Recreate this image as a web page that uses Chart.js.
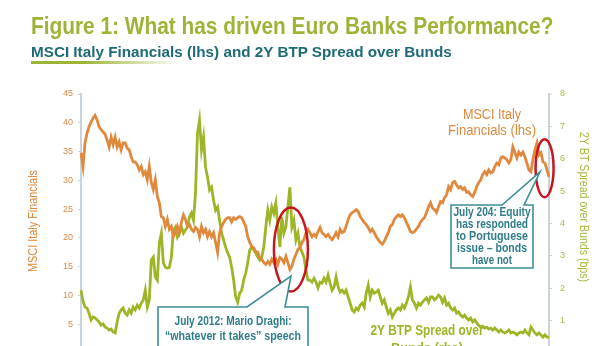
<!DOCTYPE html>
<html>
<head>
<meta charset="utf-8">
<script src="https://cdn.jsdelivr.net/npm/chart.js@4.4.1/dist/chart.umd.min.js"></script>
<style>
  html, body { margin: 0; padding: 0; background: #fff; overflow: hidden; width: 614px; height: 346px; }
  #wrap { position: relative; width: 614px; height: 370px; }
  #chart { position: absolute; left: 0; top: 0; }
  .hd { position: absolute; left: 31px; white-space: nowrap; font-family: "Liberation Sans", Arial, sans-serif;
        font-weight: bold; line-height: normal; transform-origin: 0 0; }
  #t1 { top: 12px; font-size: 24px; color: #9db436; }
  #t2 { top: 43px; font-size: 15px; color: #1f6a78; }
  #rule { position: absolute; left: 31px; top: 61px; width: 150px; height: 3px;
          background: linear-gradient(to right, #9db436 0%, #9db436 35%, rgba(157,180,54,0) 100%); }
</style>
</head>
<body>
<div id="wrap">
  <canvas id="chart" width="614" height="370"></canvas>
  <div class="hd" id="t1" data-w="522">Figure 1: What has driven Euro Banks Performance?</div>
  <div class="hd" id="t2" data-w="421">MSCI Italy Financials (lhs) and 2Y BTP Spread over Bunds</div>
  <div id="rule"></div>
</div>
<script>
// MSCI Italy Financials, index level (left axis), roughly weekly from late 2010 to July 2014
const msciItalyFin = [
  34.8, 32.4, 36.5, 38.2, 39.3, 40.1, 40.8, 41.3, 40.5, 39.3,
  38.8, 38.4, 38.0, 37.0, 35.8, 37.5, 36.2, 37.5, 35.8, 36.7,
  35.3, 36.5, 36.5, 35.6, 35.3, 34.1, 33.2, 33.2, 32.7, 31.8,
  32.4, 31.0, 31.5, 30.1, 32.4, 29.6, 28.4, 30.1, 27.2, 26.1,
  23.7, 23.5, 22.0, 23.2, 21.5, 22.0, 20.2, 20.9, 22.0, 20.9,
  22.7, 24.0, 23.2, 22.0, 22.3, 21.5, 21.1, 21.8, 21.5, 20.2,
  22.0, 20.9, 21.5, 20.2, 21.1, 20.2, 20.9, 19.2, 17.5, 20.9,
  22.0, 22.7, 23.2, 23.5, 23.5, 22.8, 23.5, 23.2, 23.5, 23.7,
  23.5, 22.8, 22.0, 20.2, 19.2, 18.5, 18.3, 17.6, 17.5, 16.6,
  16.3, 15.7, 15.4, 15.9, 15.4, 16.3, 15.7, 16.3, 15.4, 16.6,
  16.3, 15.7, 16.8, 15.7, 14.5, 15.1, 16.3, 17.1, 18.0, 18.3,
  19.2, 19.7, 20.9, 21.5, 20.9, 20.2, 20.6, 20.2, 21.1, 21.8,
  20.9, 20.6, 20.2, 20.6, 20.1, 19.7, 20.2, 20.9, 20.2, 21.5,
  20.9, 21.1, 22.0, 23.2, 24.0, 24.4, 24.6, 24.9, 24.6, 23.7,
  23.2, 22.7, 22.3, 21.8, 21.1, 21.5, 20.9, 20.2, 19.7, 19.2,
  18.9, 19.4, 20.2, 20.9, 22.0, 22.3, 23.2, 23.7, 24.0, 23.7,
  24.0, 23.5, 22.7, 22.0, 21.1, 20.9, 21.1, 21.5, 22.0, 22.7,
  23.2, 23.5, 24.4, 25.4, 26.1, 25.2, 24.9, 24.4, 25.4, 26.3,
  26.1, 27.0, 27.5, 28.9, 28.4, 29.6, 29.8, 29.2, 28.7, 28.9,
  28.4, 28.7, 27.9, 28.0, 27.5, 27.2, 27.9, 28.9, 29.6, 30.1,
  31.0, 31.5, 31.0, 31.8, 31.3, 31.5, 32.4, 33.0, 32.7, 33.9,
  34.1, 33.9, 33.6, 33.0, 33.6, 35.8, 34.9, 33.9, 34.9, 34.4,
  34.9, 34.1, 33.0, 31.8, 31.5, 33.6, 35.3, 36.5, 34.4, 34.8,
  33.2, 33.0, 31.8, 30.6
];

// 2Y BTP spread over Bunds, % (right axis), same dates
const btpSpread = [
  1.94, 1.60, 1.42, 1.39, 1.23, 1.02, 1.11, 1.08, 1.02, 0.96,
  0.86, 0.90, 0.80, 0.77, 0.71, 0.74, 0.65, 0.62, 0.96, 1.23,
  1.33, 1.39, 1.23, 1.17, 1.33, 1.23, 1.42, 1.33, 1.48, 1.39,
  1.54, 1.64, 1.94, 1.42, 1.64, 2.87, 2.96, 2.35, 2.25, 3.40,
  3.70, 2.78, 2.65, 2.62, 2.65, 2.96, 3.80, 3.89, 3.58, 3.70,
  3.89, 3.70, 3.80, 3.89, 4.20, 4.32, 4.10, 4.94, 6.79, 7.19,
  6.27, 6.67, 5.74, 5.43, 5.03, 5.12, 4.72, 4.41, 4.51, 4.10,
  3.70, 3.49, 3.27, 3.09, 2.96, 2.65, 2.25, 1.73, 1.57, 1.85,
  1.94, 2.25, 2.47, 2.78, 3.18, 3.27, 3.18, 3.09, 2.96, 2.87,
  2.96, 3.27, 3.89, 4.41, 4.10, 4.51, 4.32, 4.63, 3.89, 3.27,
  4.20, 3.70, 3.89, 4.51, 5.12, 3.89, 4.10, 3.49, 3.70, 3.27,
  3.12, 2.96, 2.56, 2.25, 2.25, 2.19, 2.31, 2.19, 2.01, 2.19,
  2.16, 2.31, 2.19, 2.41, 2.16, 1.94, 2.04, 2.35, 2.04, 1.88,
  1.94, 1.85, 1.94, 1.73, 1.54, 1.33, 1.27, 1.39, 1.33, 1.48,
  1.54, 1.42, 1.85, 2.10, 1.73, 1.94, 1.85, 1.88, 1.94, 1.73,
  1.54, 1.64, 1.42, 1.23, 1.33, 1.11, 1.23, 1.33, 1.39, 1.33,
  1.48, 1.39, 1.54, 1.73, 2.04, 1.64, 1.54, 1.39, 1.54, 1.48,
  1.57, 1.64, 1.70, 1.57, 1.73, 1.73, 1.64, 1.70, 1.79, 1.73,
  1.57, 1.70, 1.48, 1.54, 1.39, 1.33, 1.39, 1.23, 1.27, 1.17,
  1.11, 1.17, 1.08, 1.02, 1.08, 0.96, 1.02, 0.93, 0.86, 0.80,
  0.83, 0.77, 0.80, 0.74, 0.77, 0.71, 0.77, 0.71, 0.65, 0.71,
  0.65, 0.62, 0.65, 0.71, 0.62, 0.65, 0.62, 0.56, 0.62, 0.65,
  0.62, 0.71, 0.62, 0.56, 0.80, 0.71, 0.62, 0.56, 0.62, 0.56,
  0.49, 0.56, 0.49, 0.49
];

const leftTicks = { min: 0, max: 45, step: 5 };
const rightTicks = { min: 0, max: 8, step: 1 };

const ORANGE = "#e0883c";
const GREEN = "#9db526";
const TEAL = "#2f7d8b";
const AXIS = "#c9d3dc";
const FONT = '"Liberation Sans", Arial, sans-serif';

// squeeze the headings to the narrow width of the original
document.querySelectorAll(".hd").forEach(el => {
  const target = +el.dataset.w;
  el.style.transform = "scaleX(" + (target / el.offsetWidth) + ")";
});

// free-standing text, red circles and call-out boxes
const notes = {
  id: "notes",
  afterDatasetsDraw(chart) {
    const { ctx, scales } = chart;
    const xs = scales.x, yl = scales.yL;

    const text = (str, x, y, font, color, maxW, rot) => {
      ctx.save();
      ctx.translate(x, y);
      if (rot) ctx.rotate(rot);
      ctx.font = font;
      ctx.fillStyle = color;
      ctx.textAlign = "center";
      ctx.textBaseline = "middle";
      ctx.fillText(str, 0, 0, maxW);
      ctx.restore();
    };

    // axis titles
    text("MSCI Italy Financials", 34, 221, "12px " + FONT, ORANGE, 102, -Math.PI / 2);
    text("2Y BT Spread over Bunds (bps)", 584, 207, "13px " + FONT, "#a7b93c", 150, Math.PI / 2);

    // series labels
    text("MSCI Italy", 492, 115, "14px " + FONT, ORANGE, 58);
    text("Financials (lhs)", 492, 131, "14px " + FONT, ORANGE, 88);
    text("2Y BTP Spread over", 427, 331, "bold 15px " + FONT, GREEN, 113);
    text("Bunds (rhs)", 427, 349, "bold 15px " + FONT, GREEN, 72);

    // red circles
    const ring = (i, v, rx, ry) => {
      ctx.save();
      ctx.beginPath();
      ctx.ellipse(xs.getPixelForValue(i), yl.getPixelForValue(v), rx, ry, 0, 0, Math.PI * 2);
      ctx.strokeStyle = "#c8161d";
      ctx.lineWidth = 2.5;
      ctx.stroke();
      ctx.restore();
    };
    ring(104.5, 18.0, 17, 42);
    ring(230.8, 32.1, 9, 29);

    // call-out boxes with a pointer on the top edge
    const callout = (l, t, r, b, p1, p2, tip, lines, ys, widths) => {
      ctx.save();
      ctx.beginPath();
      ctx.moveTo(l, t);
      ctx.lineTo(p1, t);
      ctx.lineTo(tip[0], tip[1]);
      ctx.lineTo(p2, t);
      ctx.lineTo(r, t);
      ctx.lineTo(r, b);
      ctx.lineTo(l, b);
      ctx.closePath();
      ctx.fillStyle = "#fff";
      ctx.fill();
      ctx.strokeStyle = "#3b8e98";
      ctx.lineWidth = 1.6;
      ctx.stroke();
      ctx.restore();
      const cx = (l + r) / 2;
      lines.forEach((s, k) => text(s, cx, ys[k], "bold 12px " + FONT, TEAL, widths[k]));
    };
    callout(158, 307, 308, 380, 247, 285, [291, 276],
      ["July 2012: Mario Draghi:", "\u201cwhatever it takes\u201d speech"],
      [322, 337], [117, 136]);
    callout(451, 205, 533, 268, 502, 524, [540, 172],
      ["July 204: Equity", "has responded", "to Portuguese", "issue \u2013 bonds", "have not"],
      [213, 225, 237, 249, 261], [77, 72, 72, 70, 40]);
  }
};

const labels = msciItalyFin.map((_, i) => String(i));

new Chart(document.getElementById("chart"), {
  type: "line",
  data: {
    labels: labels,
    datasets: [
      { label: "MSCI Italy Financials", data: msciItalyFin, yAxisID: "yL",
        borderColor: ORANGE, borderWidth: 2.8, pointRadius: 0, tension: 0 },
      { label: "2Y BTP Spread over Bunds", data: btpSpread, yAxisID: "yR",
        borderColor: GREEN, borderWidth: 2.8, pointRadius: 0, tension: 0 }
    ]
  },
  options: {
    responsive: false,
    animation: false,
    layout: { padding: { top: 94, bottom: 17, left: 0, right: 0 } },
    plugins: { legend: { display: false }, tooltip: { enabled: false } },
    scales: {
      x: { display: false },
      yL: {
        position: "left", min: leftTicks.min, max: leftTicks.max,
        ticks: { stepSize: leftTicks.step, color: "#e0894a", font: { size: 9, family: FONT }, padding: 5 },
        grid: { drawOnChartArea: false, tickLength: 3, color: AXIS },
        border: { color: AXIS, width: 2 },
        afterFit(s) { s.width = 81; }
      },
      yR: {
        position: "right", min: rightTicks.min, max: rightTicks.max,
        ticks: { stepSize: rightTicks.step, color: "#a7b93c", font: { size: 9, family: FONT }, padding: 8 },
        grid: { drawOnChartArea: false, tickLength: 3, color: AXIS },
        border: { color: AXIS, width: 2 },
        afterFit(s) { s.width = 65; }
      }
    }
  },
  plugins: [notes]
});
</script>
</body>
</html>
